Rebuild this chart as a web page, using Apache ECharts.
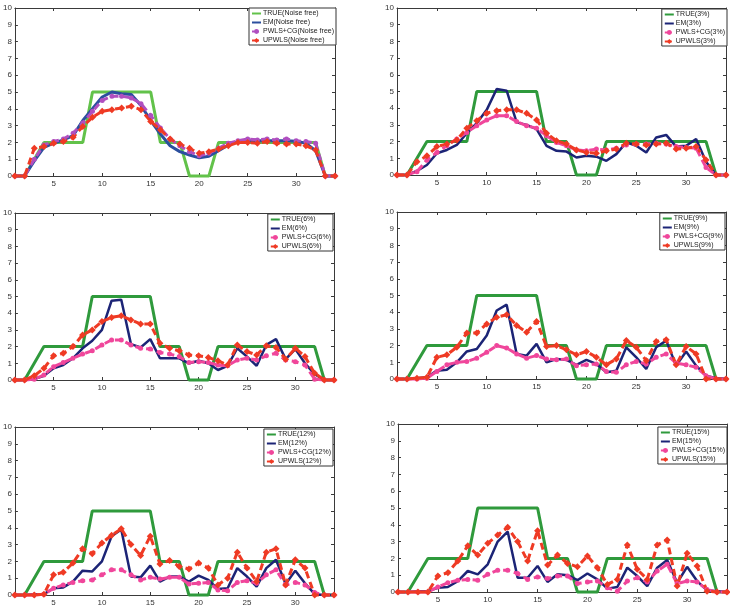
<!DOCTYPE html>
<html>
<head>
<meta charset="utf-8">
<script src="https://cdn.jsdelivr.net/npm/echarts@6/dist/echarts.min.js"></script>
<style>html,body{margin:0;padding:0;background:#fff;}#chart{width:730px;height:608px;}</style>
</head>
<body>
<div id="chart"></div>
<script>
// ---------- data ----------
const xs = [1,2,3,4,5,6,7,8,9,10,11,12,13,14,15,16,17,18,19,20,21,22,23,24,25,26,27,28,29,30,31,32,33,34];
const xTicks = [5,10,15,20,25,30];
const yTicks = [0,1,2,3,4,5,6,7,8,9,10];
const noiseLabels = ['Noise free','3%','6%','9%','12%','15%'];

const trueValues = [0,0,1,2,2,2,2,2,5,5,5,5,5,5,5,2,2,2,0,0,0,2,2,2,2,2,2,2,2,2,2,2,0,0];

const emNoiseFree    = [0,0,0.9,1.7,1.95,2.15,2.4,3.3,4.0,4.7,5.0,4.9,4.85,4.2,3.3,2.5,1.8,1.45,1.25,1.08,1.18,1.5,1.85,2.05,2.1,2.1,2.1,2.1,2.1,2.07,1.95,1.5,0,0];
const pwlsNoiseFree  = [0,0,1.0,1.85,2.05,2.2,2.55,3.15,3.85,4.5,4.75,4.75,4.65,4.3,3.6,2.85,2.2,1.8,1.45,1.2,1.35,1.65,1.95,2.1,2.2,2.15,2.2,2.15,2.2,2.1,2.05,1.95,0,0];
const upwlsNoiseFree = [0,0,1.65,1.75,1.95,2.05,2.3,2.95,3.5,3.85,3.95,4.05,4.15,3.95,3.25,2.75,2.2,1.9,1.65,1.35,1.45,1.6,1.8,2.0,2.0,1.95,2.05,1.95,1.9,1.9,1.8,1.55,0,0];

const em3    = [0,0,0.25,0.6,1.3,1.5,1.8,2.5,3.1,3.9,5.15,5.05,3.15,3.0,2.75,1.75,1.45,1.4,1.05,1.15,1.1,0.85,1.25,1.95,1.75,1.35,2.25,2.4,1.7,1.75,2.15,0.8,0,0];
const pwls3  = [0,0,0.2,0.9,1.35,1.75,2.15,2.55,2.95,3.3,3.55,3.55,3.2,2.95,2.8,2.35,1.95,1.75,1.5,1.45,1.55,1.5,1.6,1.8,1.85,1.85,1.9,1.85,1.7,1.65,1.6,0.45,0,0];
const upwls3 = [0,0,0.8,1.15,1.7,1.85,2.1,2.8,3.25,3.7,3.85,3.9,3.9,3.7,3.3,2.5,2.05,1.85,1.5,1.35,1.3,1.45,1.55,1.9,1.85,1.8,1.85,1.9,1.55,1.6,1.7,0.9,0,0];

const em6    = [0,0,0.05,0.25,0.7,0.9,1.3,1.9,2.35,3.0,4.75,4.8,2.15,1.95,2.45,1.3,1.3,1.3,1.0,1.15,1.0,0.6,0.85,1.9,1.4,0.85,2.1,2.45,1.25,1.85,1.0,0.35,0,0];
const pwls6  = [0,0,0.05,0.3,0.8,1.05,1.3,1.55,1.75,2.1,2.4,2.4,2.1,1.9,1.85,1.65,1.55,1.4,1.05,1.1,1.05,0.9,0.85,1.2,1.3,1.2,1.45,1.6,1.2,1.1,0.9,0.05,0,0];
const upwls6 = [0,0,0.25,0.7,1.45,1.6,2.0,2.7,3.0,3.5,3.75,3.85,3.6,3.35,3.35,2.2,1.9,1.75,1.5,1.45,1.35,1.15,0.9,2.1,1.7,1.5,2.05,1.95,1.25,1.9,1.4,0.4,0,0];

const em9    = [0,0,0.05,0.1,0.5,0.55,1.0,1.65,1.8,2.6,4.1,4.45,1.5,1.4,2.1,1.0,1.2,1.15,0.85,1.15,0.9,0.4,0.5,1.9,1.3,0.6,1.9,2.3,0.8,1.65,0.8,0.2,0.05,0];
const pwls9  = [0,0,0,0.05,0.45,0.85,1.0,1.05,1.25,1.6,2.0,1.85,1.5,1.25,1.4,1.2,1.15,1.2,0.8,0.85,0.9,0.45,0.4,0.85,1.05,0.9,1.3,1.5,0.95,0.85,0.7,0.2,0,0];
const upwls9 = [0,0,0.05,0.1,1.3,1.45,1.9,2.75,2.75,3.3,3.7,3.85,3.2,2.8,3.45,1.95,2.0,1.75,1.45,1.65,1.3,0.85,1.2,2.3,1.9,1.1,2.25,2.35,0.85,1.95,1.5,0,0,0];

const em12    = [0,0,0.05,0.05,0.4,0.45,0.8,1.45,1.4,2.0,3.5,3.9,1.1,1.05,1.75,0.8,1.1,1.1,0.8,1.15,0.9,0.35,0.4,1.6,1.1,0.5,1.6,2.1,0.65,1.45,0.7,0.05,0,0];
const pwls12  = [0,0,0,0.05,0.4,0.6,0.75,0.85,0.9,1.2,1.5,1.5,1.2,0.9,1.05,0.95,1.05,1.05,0.65,0.7,0.75,0.3,0.25,0.75,0.85,0.7,1.2,1.5,0.6,0.75,0.6,0.15,0,0];
const upwls12 = [0,0,0,0.05,1.2,1.35,1.9,2.75,2.45,3.1,3.55,3.95,3.0,2.35,3.5,1.85,2.05,1.7,1.55,1.9,1.6,0.6,1.0,2.55,1.6,0.8,2.55,2.75,0.6,2.1,1.6,0,0,0];

const em15    = [0,0,0.05,0.05,0.25,0.3,0.65,1.25,1.05,1.65,3.0,3.6,0.85,0.85,1.55,0.6,1.05,1.0,0.7,1.1,0.75,0.2,0.3,1.45,0.95,0.35,1.45,1.9,0.55,1.5,0.65,0.1,0.05,0];
const pwls15  = [0,0,0,0,0.3,0.55,0.7,0.75,0.7,1.05,1.3,1.3,1.1,0.75,0.9,0.8,0.95,0.95,0.5,0.6,0.65,0.25,0.05,0.65,0.85,0.6,1.25,1.65,0.5,0.65,0.6,0.15,0,0];
const upwls15 = [0,0,0,0,0.95,1.15,1.85,2.75,2.2,2.9,3.4,3.85,3.0,1.85,3.65,1.6,2.2,1.7,1.5,2.15,1.45,0.45,0.75,2.8,1.35,0.75,2.8,3.1,0.35,2.3,1.55,0.05,0,0];

const emSets    = [emNoiseFree, em3, em6, em9, em12, em15];
const pwlsSets  = [pwlsNoiseFree, pwls3, pwls6, pwls9, pwls12, pwls15];
const upwlsSets = [upwlsNoiseFree, upwls3, upwls6, upwls9, upwls12, upwls15];

// ---------- layout / style ----------
const grids = [
  {left: 8,   top: 8,   width: 327, height: 168},
  {left: 397, top: 8,   width: 329, height: 167},
  {left: 4,   top: 213, width: 330, height: 167},
  {left: 397, top: 212, width: 329, height: 167},
  {left: 4,   top: 427, width: 330, height: 168},
  {left: 398, top: 424, width: 329, height: 168}
];
const legendPos = [
  {right: 730 - 336, top: 8},
  {right: 730 - 727, top: 9},
  {right: 730 - 333, top: 214},
  {right: 730 - 725, top: 213},
  {right: 730 - 333, top: 429},
  {right: 730 - 727, top: 427}
];
const colorsFirst = {t: '#62c24a', em: '#2b4f9e', pw: '#b04fc0', up: '#ef3a24'};
const colorsRest  = {t: '#2f9a3c', em: '#1c2476', pw: '#f0469b', up: '#ef3a24'};
const FONT = 'Liberation Sans, Arial, sans-serif';
const frame = {color: '#3a3a3a', width: 1};
const hiddenSymbol = {opacity: 0, color: 'rgba(0,0,0,0)', borderWidth: 0};

const option = {
  animation: false,
  backgroundColor: '#fff',
  grid: grids.map(g => Object.assign({containLabel: false}, g)),
  xAxis: [], yAxis: [], legend: [], series: []
};

grids.forEach((g, i) => {
  const c = i === 0 ? colorsFirst : colorsRest;
  const lab = noiseLabels[i];
  const names = ['TRUE(' + lab + ')', 'EM(' + lab + ')', 'PWLS+CG(' + lab + ')', 'UPWLS(' + lab + ')'];
  option.xAxis.push({
    gridIndex: i, type: 'value', min: 1, max: 34, position: 'bottom',
    axisLine: {show: true, onZero: false, lineStyle: frame},
    axisTick: {show: true, inside: true, length: 3, customValues: xTicks, lineStyle: frame},
    axisLabel: {customValues: xTicks, fontSize: 8, color: '#333', margin: 4, fontFamily: FONT},
    splitLine: {show: false}
  });
  option.xAxis.push({
    gridIndex: i, type: 'value', min: 1, max: 34, position: 'top',
    axisLine: {show: true, onZero: false, lineStyle: frame},
    axisTick: {show: true, inside: true, length: 3, customValues: xTicks, lineStyle: frame},
    axisLabel: {show: false}, splitLine: {show: false}
  });
  option.yAxis.push({
    gridIndex: i, type: 'value', min: 0, max: 10, interval: 1, position: 'left',
    axisLine: {show: true, onZero: false, lineStyle: frame},
    axisTick: {show: true, inside: true, length: 3, lineStyle: frame},
    axisLabel: {fontSize: 8, color: '#333', margin: 3, fontFamily: FONT, customValues: yTicks},
    splitLine: {show: false}
  });
  option.yAxis.push({
    gridIndex: i, type: 'value', min: 0, max: 10, interval: 1, position: 'right',
    axisLine: {show: true, onZero: false, lineStyle: frame},
    axisTick: {show: true, inside: true, length: 3, lineStyle: frame},
    axisLabel: {show: false}, splitLine: {show: false}
  });
  option.legend.push(Object.assign({
    data: [
      {name: names[0], itemStyle: hiddenSymbol},
      {name: names[1], itemStyle: hiddenSymbol},
      {name: names[2]},
      {name: names[3]}
    ],
    orient: 'vertical',
    backgroundColor: '#fff', borderColor: '#333', borderWidth: 1,
    padding: [2, 2, 1, 2], itemGap: 2, itemWidth: 9, itemHeight: 6,
    textStyle: {fontSize: 7, color: '#222', fontFamily: FONT, padding: [0, 0, 0, -3]},
    selectedMode: false
  }, legendPos[i]));
  const mk = arr => xs.map((x, k) => [x, arr[k]]);
  const base = {type: 'line', xAxisIndex: 2 * i, yAxisIndex: 2 * i, clip: false};
  option.series.push(Object.assign({}, base, {
    name: names[0], data: mk(trueValues), symbol: 'none',
    lineStyle: {color: c.t, width: 3}, itemStyle: {color: c.t}
  }));
  option.series.push(Object.assign({}, base, {
    name: names[1], data: mk(emSets[i]), symbol: 'none',
    lineStyle: {color: c.em, width: i === 0 ? 3 : 2.5}, itemStyle: {color: c.em}
  }));
  option.series.push(Object.assign({}, base, {
    name: names[2], data: mk(pwlsSets[i]), symbol: 'circle', symbolSize: 5,
    lineStyle: {color: c.pw, width: 3, type: [7, 4]}, itemStyle: {color: c.pw}
  }));
  option.series.push(Object.assign({}, base, {
    name: names[3], data: mk(upwlsSets[i]), symbol: 'diamond', symbolSize: 7,
    lineStyle: {color: c.up, width: 3, type: [7, 4]}, itemStyle: {color: c.up}
  }));
});

const chart = echarts.init(document.getElementById('chart'), null, {renderer: 'canvas'});
chart.setOption(option);
</script>
</body>
</html>
